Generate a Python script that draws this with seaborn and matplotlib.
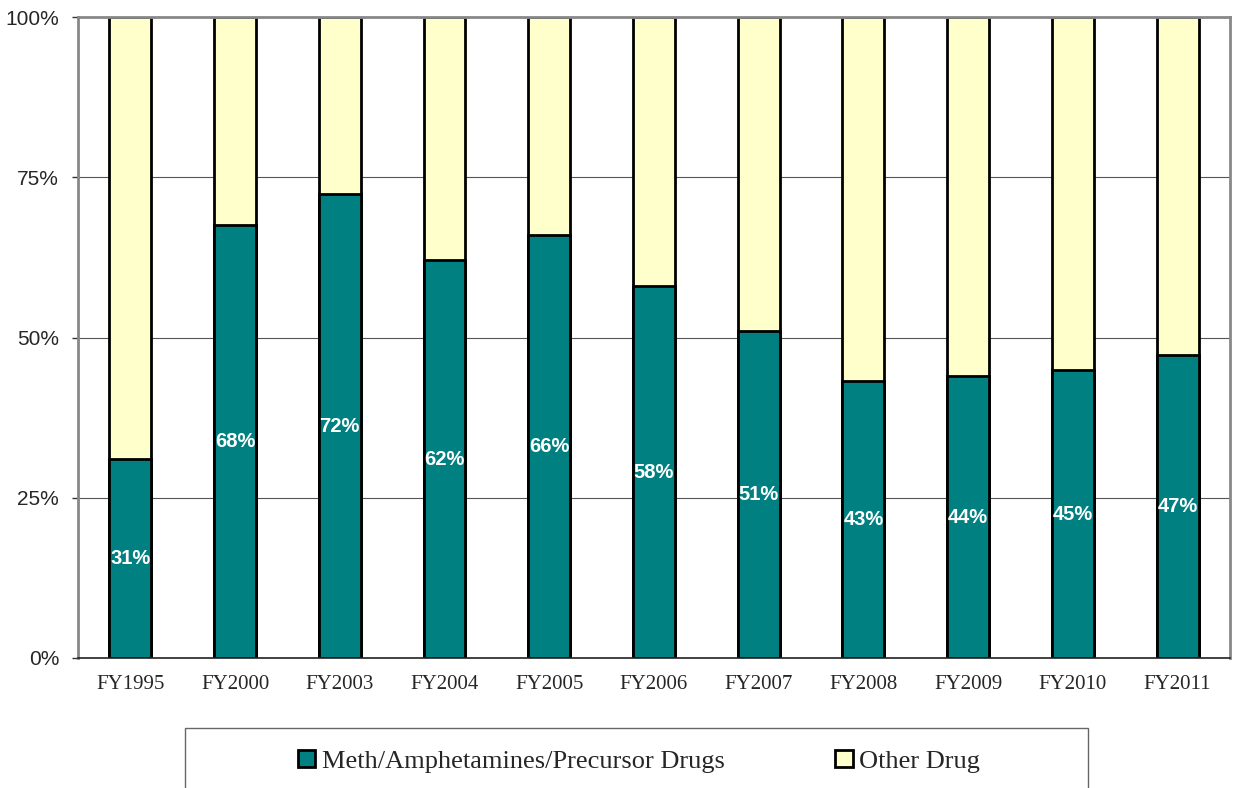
import pandas as pd
import matplotlib.pyplot as plt
import seaborn as sns
from matplotlib.patches import Rectangle

# Data
years = ["FY1995", "FY2000", "FY2003", "FY2004", "FY2005", "FY2006",
         "FY2007", "FY2008", "FY2009", "FY2010", "FY2011"]
meth_pct = [31.0, 67.6, 72.4, 62.1, 66.0, 58.0, 51.0, 43.2, 44.0, 44.9, 47.3]
other_pct = [100 - v for v in meth_pct]

teal = "#008080"
cream = "#FFFFCC"

df = pd.DataFrame({"year": years, "meth": meth_pct, "other": other_pct})
df["total"] = df["meth"] + df["other"]

sns.set_style("white")
fig = plt.figure(figsize=(12.36, 7.88), dpi=100)
ax = fig.add_axes([0.0631, 0.165, 0.9320, 0.813])

# stacked bars: full total in cream, meth share in teal on top of it
sns.barplot(data=df, x="year", y="total", color=cream, width=0.4,
            edgecolor="black", linewidth=2, saturation=1, ax=ax)
sns.barplot(data=df, x="year", y="meth", color=teal, width=0.4,
            edgecolor="black", linewidth=2, saturation=1, ax=ax)

# percent labels in the middle of the teal segment
for i, v in enumerate(df["meth"]):
    ax.text(i, v / 2, f"{round(v)}%", ha="center", va="center",
            color="white", fontweight="bold", fontsize=14.5,
            family="Liberation Sans")

ax.set_ylim(0, 100)
ax.set_xlim(-0.5, len(years) - 0.5)
ax.set_yticks([0, 25, 50, 75, 100])
ax.set_yticklabels(["0%", "25%", "50%", "75%", "100%"],
                   family="Liberation Sans", fontsize=15)
ax.set_xticklabels(years, family="Liberation Serif", fontsize=15)
ax.set_xlabel("")
ax.set_ylabel("")
ax.yaxis.grid(True, color="#555555", linewidth=0.8)
ax.set_axisbelow(True)

# ticks between categories on the x axis
ax.set_xticks([i - 0.5 for i in range(len(years) + 1)], minor=True)
ax.tick_params(axis="x", which="major", length=0, pad=12)
ax.tick_params(axis="x", which="minor", length=5, width=1, color="#333333", direction="out")
ax.tick_params(axis="y", length=4.5, width=1, color="#333333", direction="out",
               left=True, pad=9)

for side in ["top", "right", "left"]:
    ax.spines[side].set_color("#888888")
    ax.spines[side].set_linewidth(2)
ax.spines["bottom"].set_color("#222222")
ax.spines["bottom"].set_linewidth(1.2)

# legend box, cut off by the bottom edge like the original
fig.patches.append(Rectangle((185 / 1236, -0.05), (1088 - 185) / 1236, 0.05 + 60 / 788,
                             transform=fig.transFigure, facecolor="white",
                             edgecolor="#666666", linewidth=1))
handles = [Rectangle((0, 0), 1, 1, facecolor=teal, edgecolor="black", linewidth=2),
           Rectangle((0, 0), 1, 1, facecolor=cream, edgecolor="black", linewidth=2)]
fig.legend(handles, ["Meth/Amphetamines/Precursor Drugs", "Other Drug"],
           loc="center", bbox_to_anchor=(0.517, 0.034), ncol=2, frameon=False,
           prop={"family": "Liberation Serif", "size": 19},
           handlelength=0.65, handleheight=0.65, handletextpad=0.25, columnspacing=4.2)

fig.savefig("out.png", dpi=100)
